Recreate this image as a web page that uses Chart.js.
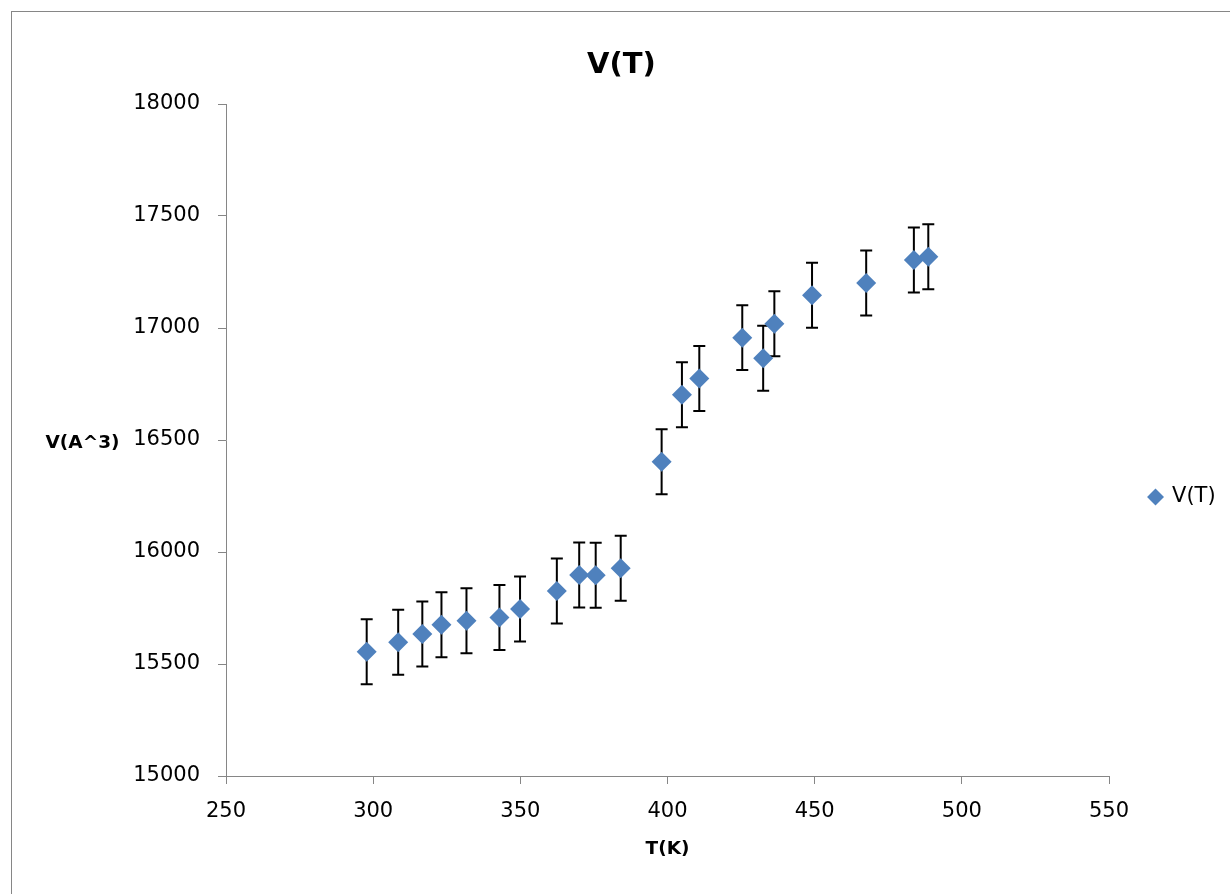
<!DOCTYPE html>
<html>
<head>
<meta charset="utf-8">
<script src="https://cdn.jsdelivr.net/npm/chart.js@4.4.1/dist/chart.umd.min.js"></script>
<style>
  html, body { margin: 0; padding: 0; background: #ffffff; overflow: hidden; }
  #frame {
    position: absolute; left: 11px; top: 11px;
    width: 1400px; height: 1000px;
    border-left: 1px solid #868686; border-top: 1px solid #868686;
  }
  canvas { display: block; }
</style>
</head>
<body>
<div id="frame"><canvas id="chart" width="1218" height="882"></canvas></div>
<script>
// Temperature (K) of each measurement
const temperatures = [297.8, 308.5, 316.7, 323.2, 331.7, 342.9, 349.9, 362.4, 370.0, 375.6, 384.1,
                      398.0, 404.9, 410.8, 425.4, 432.5, 436.3, 449.1, 467.5, 483.7, 488.6];
// Cell volume (A^3) at each temperature
const volumes = [15555, 15597, 15634, 15675, 15693, 15708, 15746, 15826, 15897, 15896, 15927,
                 16403, 16702, 16775, 16957, 16865, 17019, 17146, 17201, 17304, 17318];
// Uncertainty of each volume (A^3)
const volumeErrors = [145, 145, 145, 145, 145, 145, 145, 145, 145, 145, 145,
                      145, 145, 145, 145, 145, 145, 145, 145, 145, 145];
const xTicks = [250, 300, 350, 400, 450, 500, 550];
const yTicks = [15000, 15500, 16000, 16500, 17000, 17500, 18000];

const FONT = "'DejaVu Sans', sans-serif";
const AXIS_GREY = '#868686';
const MARKER_BLUE = '#4F81BD';

// Vertical error bars with caps, drawn under the markers
const errorBars = {
  id: 'errorBars',
  beforeDatasetsDraw(chart) {
    const { ctx, scales: { x, y } } = chart;
    ctx.save();
    ctx.strokeStyle = '#000000';
    ctx.lineWidth = 2;
    temperatures.forEach((t, i) => {
      const px = x.getPixelForValue(t);
      const top = y.getPixelForValue(volumes[i] + volumeErrors[i]);
      const bottom = y.getPixelForValue(volumes[i] - volumeErrors[i]);
      ctx.beginPath();
      ctx.moveTo(px, top); ctx.lineTo(px, bottom);
      ctx.moveTo(px - 6, top); ctx.lineTo(px + 6, top);
      ctx.moveTo(px - 6, bottom); ctx.lineTo(px + 6, bottom);
      ctx.stroke();
    });
    ctx.restore();
  }
};

// Horizontal title for the value axis, left of the tick labels
const yAxisTitle = {
  id: 'yAxisTitle',
  afterDraw(chart) {
    const { ctx, chartArea } = chart;
    ctx.save();
    ctx.font = 'bold 18.5px ' + FONT;
    ctx.fillStyle = '#000000';
    ctx.textAlign = 'center';
    ctx.textBaseline = 'middle';
    ctx.fillText('V(A^3)', 70.5, (chartArea.top + chartArea.bottom) / 2 + 3);
    ctx.restore();
  }
};

const axisCommon = {
  grid: { display: true, drawOnChartArea: false, drawTicks: true, tickLength: 8, tickColor: AXIS_GREY, lineWidth: 1 },
  border: { display: true, color: AXIS_GREY, width: 1 }
};

const plainNumber = v => String(v);

new Chart(document.getElementById('chart'), {
  type: 'scatter',
  data: {
    datasets: [{
      label: 'V(T)',
      data: temperatures.map((t, i) => ({ x: t, y: volumes[i] })),
      pointStyle: 'rectRot',
      pointRadius: 10,
      pointHoverRadius: 10,
      backgroundColor: MARKER_BLUE,
      borderColor: MARKER_BLUE,
      borderWidth: 0,
      showLine: false
    }]
  },
  options: {
    responsive: false,
    animation: false,
    events: [],
    layout: { padding: { left: 5, right: 4.4, top: 0, bottom: 0 } },
    scales: {
      x: {
        type: 'linear',
        position: 'bottom',
        min: 250, max: 550,
        afterBuildTicks: s => { s.ticks = xTicks.map(v => ({ value: v })); },
        afterFit: s => { s.height = 118; },
        ticks: { font: { family: FONT, size: 21 }, color: '#000000', padding: 15, maxRotation: 0, callback: plainNumber },
        title: { display: true, text: 'T(K)', font: { family: FONT, size: 18.5, weight: 'bold' }, color: '#000000', padding: { top: 0, bottom: 34 } },
        ...axisCommon
      },
      y: {
        type: 'linear',
        position: 'left',
        min: 15000, max: 18000,
        afterBuildTicks: s => { s.ticks = yTicks.map(v => ({ value: v })); },
        afterFit: s => { s.width = 209; },
        ticks: { font: { family: FONT, size: 21 }, color: '#000000', padding: 18, callback: plainNumber },
        ...axisCommon
      }
    },
    plugins: {
      title: {
        display: true,
        text: 'V(T)',
        font: { family: FONT, size: 29, weight: 'bold' },
        color: '#000000',
        padding: { top: 35.6, bottom: 21.6 }
      },
      legend: {
        position: 'right',
        align: 'center',
        title: { display: true, text: '', font: { size: 10 }, padding: { top: 76, bottom: 0 } },
        labels: {
          usePointStyle: true,
          boxWidth: 12,
          boxHeight: 12,
          padding: 40.5,
          color: '#000000',
          font: { family: FONT, size: 21 }
        }
      },
      tooltip: { enabled: false }
    }
  },
  plugins: [errorBars, yAxisTitle]
});
</script>
</body>
</html>
